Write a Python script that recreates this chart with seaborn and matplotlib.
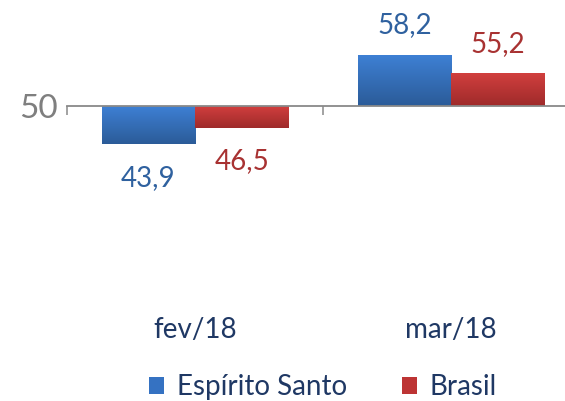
import numpy as np
import pandas as pd
import matplotlib
matplotlib.use("Agg")
import matplotlib.pyplot as plt
import seaborn as sns
from matplotlib.colors import LinearSegmentedColormap
from matplotlib.patches import Patch
import matplotlib.transforms as mtransforms

categories = ["fev/18", "mar/18"]
series = ["Espírito Santo", "Brasil"]
espirito_santo = [43.9, 58.2]
brasil = [46.5, 55.2]
baseline = 50
ytick_labels = ["50"]

df = pd.DataFrame({
    "mes": categories * 2,
    "serie": [series[0]] * len(categories) + [series[1]] * len(categories),
    "valor": espirito_santo + brasil,
})
df["desvio"] = df["valor"] - baseline

sns.set_theme(style="white")
plt.rcParams["font.family"] = ["Lato", "DejaVu Sans"]

W, H = 565, 401
fig = plt.figure(figsize=(W / 100, H / 100), dpi=100)
ax = fig.add_axes([67 / W, (H - 292) / H, 512 / W, 279 / H])

mid_colors = {series[0]: "#3572c2", series[1]: "#bd3434"}
light = {series[0]: "#3e80d4", series[1]: "#d13f3e"}
dark = {series[0]: "#2b5b98", series[1]: "#9e2a2a"}
text_colors = {series[0]: "#2f619f", series[1]: "#a83232"}
navy = "#1f3864"

sns.barplot(data=df, x="mes", y="desvio", hue="serie", hue_order=series,
            palette=mid_colors, bottom=baseline, width=0.73, saturation=1,
            edgecolor="none", linewidth=0, legend=False, ax=ax)

ax.set_xlim(-0.5, 1.5)
ax.set_ylim(20, 65)

# gradient fill for each bar
for s, cont in zip(series, ax.containers):
    cmap = LinearSegmentedColormap.from_list(s, [light[s], dark[s]])
    grad = np.linspace(0, 1, 256).reshape(-1, 1)
    for p in cont.patches:
        x0, y0 = p.get_x(), p.get_y()
        w, h = p.get_width(), p.get_height()
        ylo, yhi = min(y0, y0 + h), max(y0, y0 + h)
        ax.imshow(grad, cmap=cmap, extent=[x0, x0 + w, ylo, yhi], origin="upper",
                  aspect="auto", zorder=p.get_zorder(), interpolation="bilinear")
        p.set_facecolor("none")

ax.set_xlim(-0.5, 1.5)
ax.set_ylim(20, 65)

vals = {series[0]: espirito_santo, series[1]: brasil}
for s, cont in zip(series, ax.containers):
    labels = [f"{v:.1f}".replace(".", ",") for v in vals[s]]
    neg = [l if v < baseline else "" for l, v in zip(labels, vals[s])]
    pos = [l if v >= baseline else "" for l, v in zip(labels, vals[s])]
    ax.bar_label(cont, labels=neg, padding=15, color=text_colors[s], fontsize=20)
    ax.bar_label(cont, labels=pos, padding=12, color=text_colors[s], fontsize=20)

# axes styling
for side in ["top", "right", "left"]:
    ax.spines[side].set_visible(False)
ax.spines["bottom"].set_position(("data", baseline))
ax.spines["bottom"].set_color("#898989")
ax.spines["bottom"].set_linewidth(1.3)
ax.set_xticks([-0.5, 0.5, 1.5])
ax.set_xticklabels([])
ax.tick_params(axis="x", direction="out", length=6.5, width=1.1, color="#898989", bottom=True)
ax.set_yticks([baseline])
ax.set_yticklabels(ytick_labels)
ax.tick_params(axis="y", length=0, pad=7, labelsize=24, labelcolor="#7f7f7f")
ax.set_xlabel("")
ax.set_ylabel("")
ax.grid(False)

trans = mtransforms.blended_transform_factory(ax.transData, ax.transAxes)
for i, c in enumerate(categories):
    ax.text(i, (292 - 330) / 279, c, transform=trans, ha="center", va="center",
            fontsize=20, color=navy)

handles = [Patch(facecolor=mid_colors[s], edgecolor="none", label=s) for s in series]
fig.legend(handles=handles, loc="center", bbox_to_anchor=(323 / W, 1 - 387 / H),
           ncol=2, frameon=False, fontsize=20, handlelength=0.55, handleheight=0.55,
           handletextpad=0.45, columnspacing=2.0, labelcolor=navy)

fig.savefig("out.png", dpi=100)
